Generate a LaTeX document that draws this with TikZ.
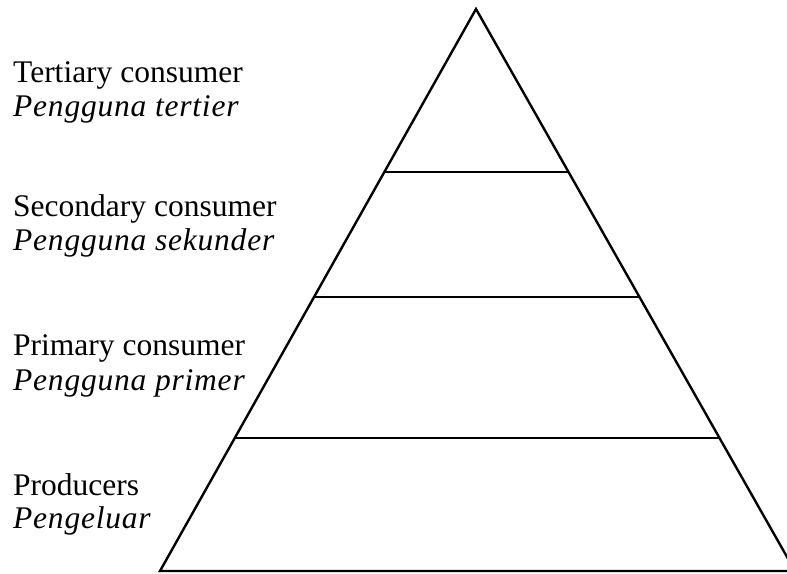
\documentclass[tikz,border=0pt]{standalone}
\usepackage{fontspec}
\setmainfont{Liberation Serif}
\usetikzlibrary{calc}

\begin{document}
\begin{tikzpicture}[x=1pt,y=-1pt,line width=2.4pt,
    every node/.style = {anchor=base west, inner sep=0pt,
    font=\fontsize{31.5}{34}\selectfont},
    local/.style={font=\fontsize{31.5}{34}\selectfont\itshape\addfontfeatures{LetterSpace=2.5}}]
    \useasboundingbox (0,0) rectangle (787,573);
    \coordinate (top) at (476,9);
    \coordinate (bl) at (160,571);
    \coordinate (br) at (795,571);
    \draw (top) -- (bl) -- (br) -- cycle;
    \draw ($(top)!0.290!(bl)$) -- ($(top)!0.290!(br)$);
    \draw ($(top)!0.5125!(bl)$) -- ($(top)!0.5125!(br)$);
    \draw ($(top)!0.763!(bl)$) -- ($(top)!0.763!(br)$);
    \node (ter) at (12,82) {Tertiary consumer};
    \node[local] (terl) at (12,116) {Pengguna tertier};
    \node (sec) at (12,216) {Secondary consumer};
    \node[local] (secl) at (12,250) {Pengguna sekunder};
    \node (pri) at (12,355) {Primary consumer};
    \node[local] (pril) at (12,390) {Pengguna primer};
    \node (pro) at (12,495) {Producers};
    \node[local] (prol) at (12,528) {Pengeluar};
\end{tikzpicture}
\end{document}
